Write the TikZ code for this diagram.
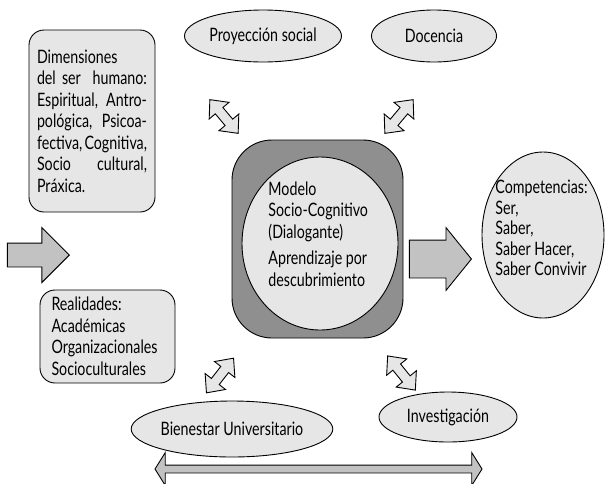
\documentclass[tikz,border=0pt]{standalone}
\usepackage{fontspec}
\setmainfont[FakeStretch=0.77]{Lato}
\usetikzlibrary{shapes.geometric,shapes.arrows}
\definecolor{lightfill}{HTML}{E6E6E6}
\definecolor{darkfill}{HTML}{8F8F8F}
\definecolor{arrowfill}{HTML}{C2C2C2}

\begin{document}
\begin{tikzpicture}[
    x=1pt, y=-1pt,
    line width=0.9pt,
    font=\fontsize{18.5}{21.5}\selectfont,
    box/.style={rectangle, draw, rounded corners=15pt, fill=lightfill, align=left, inner sep=0pt},
    oval/.style={ellipse, draw, fill=lightfill, inner sep=0pt},
    bigarrow/.style={single arrow, draw, fill=arrowfill, inner xsep=0pt, single arrow head indent=0pt},
    twoway/.style={double arrow, draw, fill=lightfill, inner xsep=0pt, inner ysep=4.5pt,
        minimum height=44pt, double arrow head extend=8pt, double arrow tip angle=84}
]
\useasboundingbox (0,0) rectangle (609,483);

% left side
\node[box, minimum width=126pt, minimum height=182pt, text width=110pt] (dimensiones) at (92,121)
    {Dimensiones\\ del ser\hfill humano:\\ Espiritual,\hfill Antro-\\ pológica,\hfill Psicoa-\\
     fectiva,\hfill Cognitiva,\\ Socio\hfill cultural,\\ Práxica.};
\node[box, minimum width=135pt, minimum height=93pt, text width=112pt] (realidades) at (107.5,336.5)
    {Realidades:\\ Académicas\\ Organizacionales\\ Socioculturales};
\node[bigarrow, minimum height=62pt, inner ysep=11.5pt, single arrow head extend=15.5pt,
    single arrow tip angle=90, anchor=tip] (entrada) at (70,255) {};

% center
\node[rectangle, draw, rounded corners=40pt, fill=darkfill, minimum width=171pt, minimum height=198pt] (modelo) at (317.5,239) {};
\node[oval, minimum width=156pt, minimum height=173pt] (circulo) at (320,243.5) {};
\node[align=left, inner sep=0pt, anchor=west] (modelotexto) at (268,234)
    {Modelo\\ Socio-Cognitivo\\ (Dialogante)\\[5pt] Aprendizaje por\\ descubrimiento};

% right side
\node[bigarrow, minimum height=62pt, inner ysep=18.5pt, single arrow head extend=12.5pt,
    single arrow tip angle=102, anchor=tip] (salida) at (472,259) {};
\node[oval, minimum width=122pt, minimum height=166pt] (competencias) at (543,235) {};
\node[align=left, inner sep=0pt, anchor=west, font=\fontsize{18.5}{20.5}\selectfont] (competenciastexto) at (495,228)
    {Competencias:\\ Ser,\\ Saber,\\ Saber Hacer,\\ Saber Convivir};

% top and bottom
\node[oval, minimum width=157pt, minimum height=52pt] (proyeccion) at (263,36) {Proyección social};
\node[oval, minimum width=125pt, minimum height=52pt] (docencia) at (434,36) {Docencia};
\node[oval, minimum width=181pt, minimum height=56pt] (bienestar) at (232,429) {Bienestar Universitario};
\node[oval, minimum width=138pt, minimum height=50pt] (investigacion) at (448,417) {Investigación};

\node[twoway, rotate=130] (flechaproyeccion) at (224,116.5) {};
\node[twoway, rotate=50] (flechadocencia) at (399,116.5) {};
\node[twoway, rotate=52] (flechabienestar) at (220,375.5) {};
\node[twoway, rotate=-51] (flechainvestigacion) at (401.5,373) {};

\node[double arrow, draw, fill=arrowfill, inner xsep=0pt, inner ysep=3.5pt, minimum height=327pt,
    double arrow head extend=12.5pt, double arrow tip angle=116] (eje) at (318.5,469) {};

\end{tikzpicture}
\end{document}
